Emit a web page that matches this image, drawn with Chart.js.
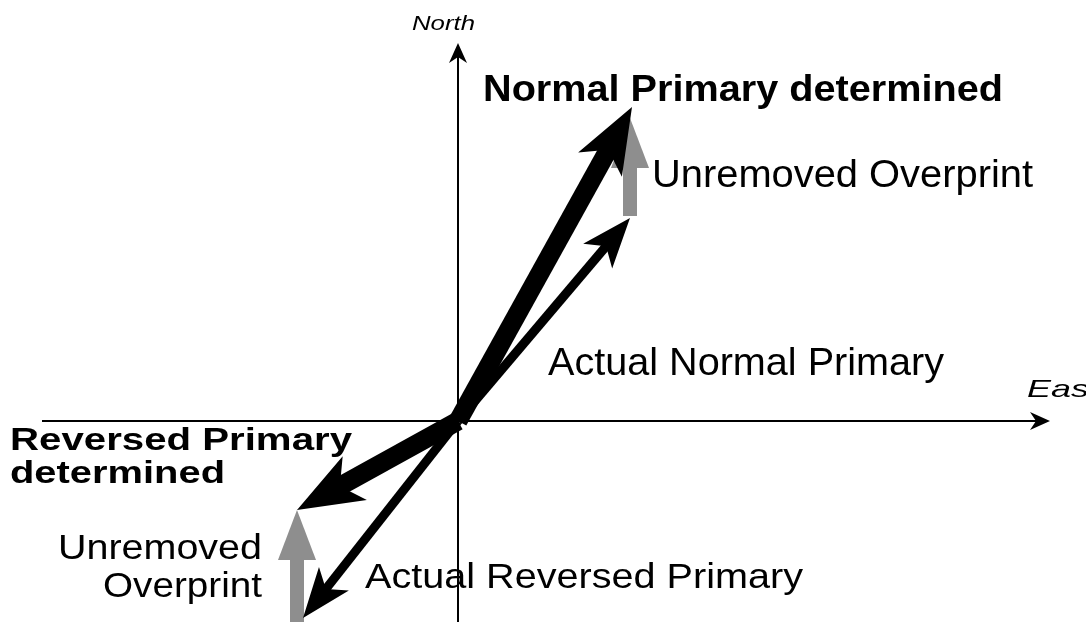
<!DOCTYPE html>
<html>
<head>
<meta charset="utf-8">
<script src="https://cdn.jsdelivr.net/npm/chart.js@4.4.1/dist/chart.umd.min.js"></script>
<style>
  html, body { margin: 0; padding: 0; background: #fff; }
  #wrap { width: 1086px; height: 622px; position: relative; }
</style>
</head>
<body>
<div id="wrap"><canvas id="vectorChart"></canvas></div>
<script>
// vectors in diagram units, origin where the axes cross (drawn in this order)
const vectorNames = ['North', 'East', 'Unremoved Overprint (normal)', 'Unremoved Overprint (reversed)',
  'Actual Normal Primary', 'Actual Reversed Primary', 'Normal Primary determined', 'Reversed Primary determined'];
const vectorKinds = ['axis', 'axis', 'overprint', 'overprint', 'actual', 'actual', 'determined', 'determined'];
const fromX = [0, -4.16, 1.72, -1.61, 0, 0, 0, 0];
const fromY = [-2.05, 0, 2.05, -2.05, 0, 0, 0, 0];
const toX = [0, 5.92, 1.72, -1.61, 1.72, -1.55, 1.74, -1.61];
const toY = [3.78, 0, 3.03, -0.89, 2.03, -1.97, 3.14, -0.89];

// look of each kind of arrow (px)
const arrowStyles = {
  axis:       { color: '#000', width: 2,  len: 20, half: 9,  notch: 14 },
  overprint:  { color: '#8e8e8e', width: 14, len: 50, half: 19, notch: 50 },
  actual:     { color: '#000', width: 9,  len: 50, half: 19, notch: 37 },
  determined: { color: '#000', width: 19, len: 66, half: 25, notch: 49 }
};

// text: left x, baseline y, font, width it should take
const labels = [
  { text: 'North', x: 412, y: 30, font: 'italic 20px "Liberation Sans"', w: 63 },
  { text: 'East', x: 1027, y: 397, font: 'italic 24px "Liberation Sans"', w: 72 },
  { text: 'Normal Primary determined', x: 483, y: 101, font: 'bold 37px "Liberation Sans"', w: 520 },
  { text: 'Unremoved Overprint', x: 652, y: 187, font: '39px "Liberation Sans"', w: 381 },
  { text: 'Actual Normal Primary', x: 548, y: 375, font: '39px "Liberation Sans"', w: 396 },
  { text: 'Reversed Primary', x: 10, y: 450, font: 'bold 32px "Liberation Sans"', w: 342 },
  { text: 'determined', x: 10, y: 483, font: 'bold 32px "Liberation Sans"', w: 215 },
  { text: 'Unremoved', x: 58, y: 559, font: '35px "Liberation Sans"', w: 204 },
  { text: 'Overprint', x: 103, y: 597, font: '35px "Liberation Sans"', w: 159 },
  { text: 'Actual Reversed Primary', x: 365, y: 588, font: '35px "Liberation Sans"', w: 438 }
];

function drawArrow(ctx, sx, sy, tx, ty, st) {
  const dx = tx - sx, dy = ty - sy;
  const d = Math.hypot(dx, dy);
  const ux = dx / d, uy = dy / d;
  const nx = -uy, ny = ux;
  const hw = st.width / 2;
  const ex = tx - ux * (st.notch - 1), ey = ty - uy * (st.notch - 1);
  ctx.fillStyle = st.color;
  ctx.beginPath();
  ctx.moveTo(sx + nx * hw, sy + ny * hw);
  ctx.lineTo(ex + nx * hw, ey + ny * hw);
  ctx.lineTo(ex - nx * hw, ey - ny * hw);
  ctx.lineTo(sx - nx * hw, sy - ny * hw);
  ctx.closePath();
  ctx.fill();
  const bx = tx - ux * st.len, by = ty - uy * st.len;
  ctx.beginPath();
  ctx.moveTo(tx, ty);
  ctx.lineTo(bx + nx * st.half, by + ny * st.half);
  ctx.lineTo(tx - ux * st.notch, ty - uy * st.notch);
  ctx.lineTo(bx - nx * st.half, by - ny * st.half);
  ctx.closePath();
  ctx.fill();
}

const arrowPlugin = {
  id: 'arrows',
  afterDatasetsDraw(chart) {
    const ctx = chart.ctx;
    const xs = chart.scales.x, ys = chart.scales.y;
    ctx.save();
    chart.data.datasets.forEach((ds, i) => {
      const p0 = ds.data[0], p1 = ds.data[1];
      drawArrow(ctx, xs.getPixelForValue(p0.x), ys.getPixelForValue(p0.y),
        xs.getPixelForValue(p1.x), ys.getPixelForValue(p1.y), arrowStyles[vectorKinds[i]]);
    });
    ctx.fillStyle = '#000';
    ctx.textBaseline = 'alphabetic';
    labels.forEach(l => {
      ctx.font = l.font;
      const m = ctx.measureText(l.text).width;
      ctx.save();
      ctx.translate(l.x, l.y);
      ctx.scale(l.w / m, 1);
      ctx.fillText(l.text, 0, 0);
      ctx.restore();
    });
    ctx.restore();
  }
};

new Chart(document.getElementById('vectorChart'), {
  type: 'scatter',
  data: {
    datasets: vectorNames.map((name, i) => ({
      label: name,
      data: [{ x: fromX[i], y: fromY[i] }, { x: toX[i], y: toY[i] }],
      showLine: false,
      pointRadius: 0
    }))
  },
  options: {
    responsive: true,
    maintainAspectRatio: false,
    animation: false,
    layout: { padding: 0 },
    plugins: { legend: { display: false }, tooltip: { enabled: false } },
    scales: {
      x: { type: 'linear', display: false, min: -4.58, max: 6.28 },
      y: { type: 'linear', display: false, min: -2.01, max: 4.21 }
    }
  },
  plugins: [arrowPlugin]
});
</script>
</body>
</html>
